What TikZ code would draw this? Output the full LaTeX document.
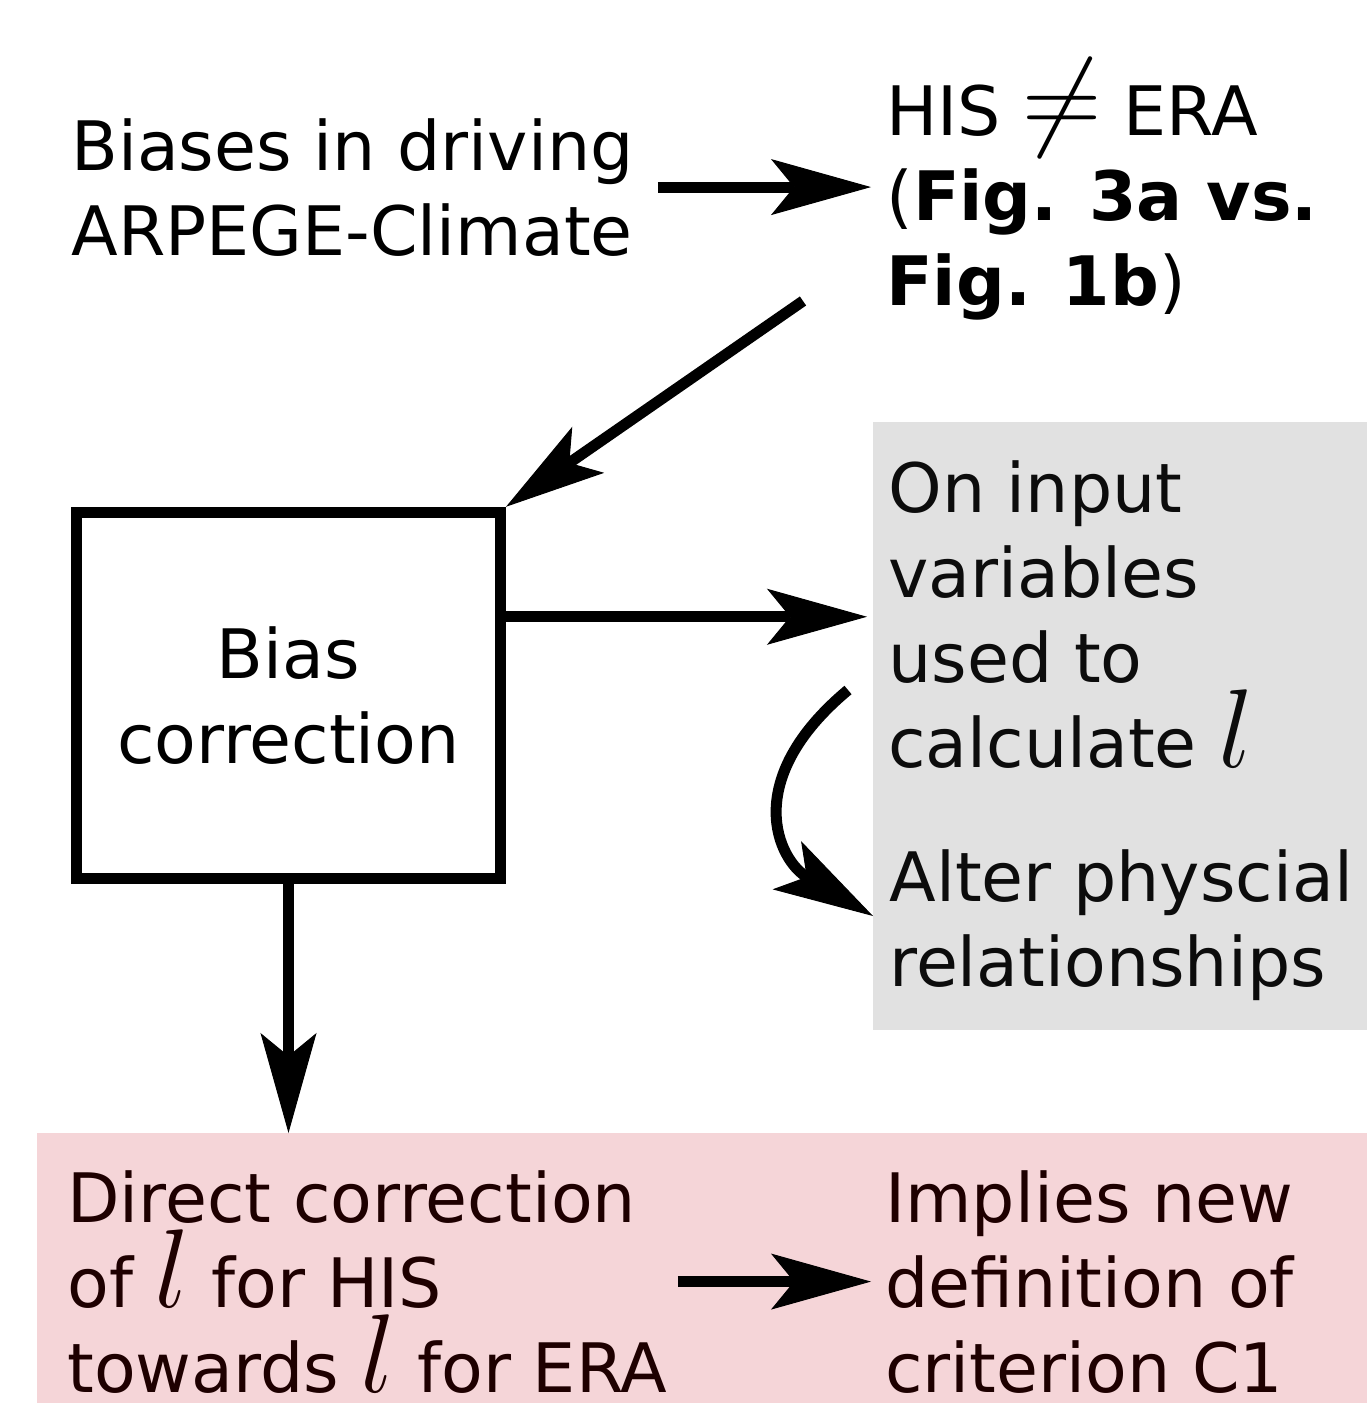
\RequirePackage{fix-cm}
\documentclass[tikz,border=0pt]{standalone}
\usepackage{fontspec}
\setmainfont{DejaVu Sans}
\usetikzlibrary{arrows.meta}
\definecolor{BCGray}{HTML}{E1E1E1}
\definecolor{BCPink}{HTML}{F5D5D8}
\definecolor{BCInk}{HTML}{0C0C0C}
\definecolor{BCRedInk}{HTML}{1E0000}
\newcommand{\symbl}{\smash{\fontsize{56}{56}\selectfont$l$}}
\newcommand{\symneq}{\smash{\fontsize{55}{55}\selectfont$\neq$}}

\begin{document}
\begin{tikzpicture}[x=0.5pt,y=-0.5pt,
  txt/.style={inner sep=0pt,align=left,anchor=base west,font=\fontsize{34.1}{42.5}\selectfont},
  zone/.style={inner sep=0pt,anchor=north west},
  stage/.style={draw,line width=5.5pt,minimum width=212pt,minimum height=183pt,align=center,inner sep=0pt,font=\fontsize{34.1}{42.5}\selectfont},
  flow/.style={line width=5.5pt,-{Stealth[length=50pt,width=28pt,inset=11.5pt,line width=0.5pt]}}]
\path[use as bounding box] (0,0) rectangle (1367,1403);
\node[zone,fill=BCGray,minimum width=247pt,minimum height=304pt] (grayzone) at (873,422) {};
\node[zone,fill=BCPink,minimum width=665pt,minimum height=135pt] (pinkzone) at (37,1133) {};
\node[txt] (biases) at (71,255) {Biases in driving\\ARPEGE-Climate};
\node[txt] (mismatch) at (886,305) {HIS \symneq{} ERA\\(\textbf{Fig. 3a vs.}\\\textbf{Fig. 1b})};
\node[stage] (bias) at (288.5,695.25) {Bias\\correction};
\node[txt,text=BCInk] (inputs) at (888,767) {On input\\variables\\used to\\calculate \symbl};
\node[txt,text=BCInk] (alter) at (889,986) {Alter physcial\\relationships};
\node[txt,text=BCRedInk] (direct) at (67,1392) {Direct correction\\of \symbl{} for HIS\\towards \symbl{} for ERA};
\node[txt,text=BCRedInk] (implies) at (885,1392) {Implies new\\definition of\\criterion C1};
\coordinate (mismatchout) at (803,301);
\coordinate (bendin) at (848,690);
\coordinate (bendout) at (873,916);
\draw[flow] ([xshift=12pt]biases.east) -- ([xshift=-7.5pt]biases.east -| mismatch.west);
\draw[flow] (mismatchout) -- (bias.north east);
\draw[flow] ([yshift=-55pt]bias.north east) -- ([yshift=-55pt,xshift=-3pt]bias.north east -| grayzone.west);
\draw[flow] (bendin) .. controls (740,780) and (778,860) .. (bendout);
\draw[flow] (bias.south) -- (bias.south |- pinkzone.north);
\draw[flow] ([xshift=5pt]direct.east) -- ([xshift=-7pt]direct.east -| implies.west);
\end{tikzpicture}
\end{document}
